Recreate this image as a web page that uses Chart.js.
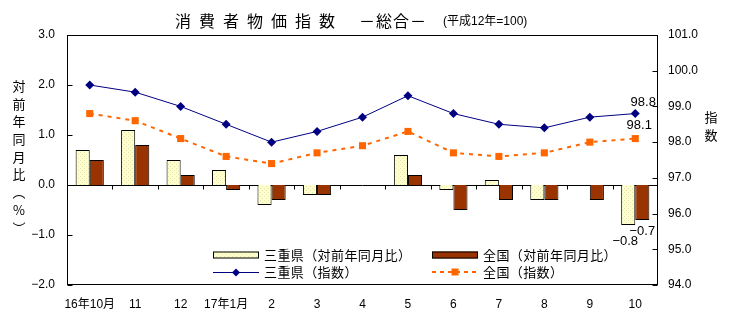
<!DOCTYPE html>
<html>
<head>
<meta charset="utf-8">
<script src="https://cdn.jsdelivr.net/npm/chart.js@4"></script>
<style>
  html, body { margin: 0; padding: 0; background: #fff; }
  #wrap { width: 729px; height: 328px; }
</style>
</head>
<body>
<div id="wrap"><canvas id="cpiChart" width="729" height="328"></canvas></div>
<script>
// 消費者物価指数（総合）: 三重県 と 全国
const categories = ["16年10月", "11", "12", "17年1月", "2", "3", "4", "5", "6", "7", "8", "9", "10"];
const mieYoY = [0.7, 1.1, 0.5, 0.3, -0.4, -0.2, 0.0, 0.6, -0.1, 0.1, -0.3, 0.0, -0.8];
const zenkokuYoY = [0.5, 0.8, 0.2, -0.1, -0.3, -0.2, 0.0, 0.2, -0.5, -0.3, -0.3, -0.3, -0.7];
const mieIndex = [99.6, 99.4, 99.0, 98.5, 98.0, 98.3, 98.7, 99.3, 98.8, 98.5, 98.4, 98.7, 98.8];
const zenkokuIndex = [98.8, 98.6, 98.1, 97.6, 97.4, 97.7, 97.9, 98.3, 97.7, 97.6, 97.7, 98.0, 98.1];
const leftTicks = [-2, -1, 0, 1, 2, 3];
const rightTicks = [94, 95, 96, 97, 98, 99, 100, 101];

const FONT = '"Liberation Sans", "Noto Sans CJK JP", sans-serif';
const JFONT = '"Noto Sans CJK JP", sans-serif';
const NAVY = "#000080";
const ORANGE = "#FF6600";
const BROWN = "#993300";

function fmt(v) {
  return v.toFixed(1).replace("-", "\u2212");
}

// light yellow fill with faint dots
function dotPattern() {
  const c = document.createElement("canvas");
  c.width = 4; c.height = 4;
  const g = c.getContext("2d");
  g.fillStyle = "#FFFFCC";
  g.fillRect(0, 0, 4, 4);
  g.fillStyle = "#E4E4B4";
  g.fillRect(0, 0, 1, 1);
  g.fillRect(2, 2, 1, 1);
  return g.createPattern(c, "repeat");
}

const decor = {
  id: "decor",
  beforeDatasetsDraw(chart) {
    const { ctx, chartArea: a, scales } = chart;
    const zy = Math.round(scales.y.getPixelForValue(0)) + 0.5;
    ctx.save();
    ctx.strokeStyle = "#000";
    ctx.lineWidth = 1;
    ctx.beginPath();
    ctx.moveTo(a.left, zy);
    ctx.lineTo(a.right, zy);
    const step = (a.right - a.left) / categories.length;
    for (let k = 1; k < categories.length; k++) {
      const x = Math.round(a.left + k * step) + 0.5;
      ctx.moveTo(x, zy);
      ctx.lineTo(x, zy + 4);
    }
    ctx.stroke();
    ctx.restore();
  },
  afterDatasetsDraw(chart) {
    const { ctx } = chart;
    const last = categories.length - 1;
    ctx.save();
    ctx.fillStyle = "#000";
    ctx.font = "13px " + FONT;
    ctx.textAlign = "center";
    ctx.textBaseline = "middle";
    const pMie = chart.getDatasetMeta(0).data[last];
    const pZen = chart.getDatasetMeta(1).data[last];
    const bMie = chart.getDatasetMeta(2).data[last];
    const bZen = chart.getDatasetMeta(3).data[last];
    ctx.fillText(fmt(mieIndex[last]), pMie.x + 8, pMie.y - 11);
    ctx.fillText(fmt(zenkokuIndex[last]), pZen.x + 4, pZen.y - 13);
    ctx.fillText(fmt(zenkokuYoY[last]), bZen.x + 0, bZen.y + 11);
    ctx.fillText(fmt(mieYoY[last]), bMie.x - 3, bMie.y + 16);
    ctx.restore();
  },
  afterDraw(chart) {
    const { ctx, chartArea: a, scales } = chart;
    const L = Math.round(a.left) + 0.5, R = Math.round(a.right) - 0.5;
    const T = Math.round(a.top) + 0.5, B = Math.round(a.bottom) - 0.5;
    ctx.save();
    ctx.strokeStyle = "#000";
    ctx.lineWidth = 1;
    ctx.strokeRect(L, T, R - L, B - T);
    ctx.beginPath();
    leftTicks.forEach(v => {
      const y = Math.round(scales.y.getPixelForValue(v)) + 0.5;
      ctx.moveTo(L, y); ctx.lineTo(L + 5, y);
    });
    rightTicks.forEach(v => {
      const y = Math.round(scales.y2.getPixelForValue(v)) + 0.5;
      ctx.moveTo(R, y); ctx.lineTo(R - 5, y);
    });
    ctx.stroke();

    // title
    ctx.fillStyle = "#000";
    ctx.textBaseline = "middle";
    ctx.textAlign = "left";
    ctx.font = "16px " + JFONT;
    ctx.letterSpacing = "8px";
    ctx.fillText("消費者物価指数", 175, 21);
    ctx.letterSpacing = "1px";
    ctx.fillText("－総合－", 359, 21);
    ctx.letterSpacing = "0px";
    ctx.font = "12px " + FONT;
    ctx.fillText("(平成12年=100)", 443, 22);

    // vertical axis titles
    ctx.textAlign = "center";
    ctx.font = "13px " + JFONT;
    const leftTitle = ["対", "前", "年", "同", "月", "比", "\uFE35", "%", "\uFE36"];
    leftTitle.forEach((ch, i) => ctx.fillText(ch, 19, 86 + i * 17.7));
    ["指", "数"].forEach((ch, i) => ctx.fillText(ch, 711, 117 + i * 18));

    // legend
    ctx.textAlign = "left";
    ctx.font = "13px " + JFONT;
    ctx.letterSpacing = "0.4px";
    const rows = [255, 272];
    const cols = [213, 432];
    // bars
    ctx.fillStyle = dotPattern();
    ctx.fillRect(cols[0], rows[0] - 3.5, 46, 7);
    ctx.strokeRect(cols[0] + 0.5, rows[0] - 3, 45, 6);
    ctx.fillStyle = BROWN;
    ctx.fillRect(cols[1], rows[0] - 3.5, 46, 7);
    ctx.strokeRect(cols[1] + 0.5, rows[0] - 3, 45, 6);
    // lines
    ctx.strokeStyle = NAVY;
    ctx.beginPath();
    ctx.moveTo(cols[0], rows[1] + 0.5); ctx.lineTo(cols[0] + 46, rows[1] + 0.5);
    ctx.stroke();
    ctx.fillStyle = NAVY;
    ctx.beginPath();
    const dx = cols[0] + 23, dy = rows[1] + 0.5;
    ctx.moveTo(dx, dy - 4); ctx.lineTo(dx + 4, dy); ctx.lineTo(dx, dy + 4); ctx.lineTo(dx - 4, dy);
    ctx.closePath(); ctx.fill();
    ctx.strokeStyle = ORANGE;
    ctx.lineWidth = 2;
    ctx.setLineDash([4, 4]);
    ctx.beginPath();
    ctx.moveTo(cols[1], rows[1]); ctx.lineTo(cols[1] + 46, rows[1]);
    ctx.stroke();
    ctx.setLineDash([]);
    ctx.fillStyle = ORANGE;
    ctx.fillRect(cols[1] + 19.5, rows[1] - 3.5, 7, 7);

    ctx.fillStyle = "#000";
    ctx.fillText("三重県（対前年同月比）", cols[0] + 51, rows[0]);
    ctx.fillText("全国（対前年同月比）", cols[1] + 51, rows[0]);
    ctx.fillText("三重県（指数）", cols[0] + 51, rows[1]);
    ctx.fillText("全国（指数）", cols[1] + 51, rows[1]);
    ctx.restore();
  }
};

document.addEventListener("DOMContentLoaded", function () {
  const ctx = document.getElementById("cpiChart").getContext("2d");

  new Chart(ctx, {
    type: "bar",
    data: {
      labels: categories,
      datasets: [
        {
          type: "line",
          label: "三重県（指数）",
          data: mieIndex,
          yAxisID: "y2",
          borderColor: NAVY,
          borderWidth: 1,
          backgroundColor: NAVY,
          pointStyle: "rectRot",
          pointRadius: 4.5,
          pointBorderWidth: 0,
          tension: 0,
          order: 0,
        },
        {
          type: "line",
          label: "全国（指数）",
          data: zenkokuIndex,
          yAxisID: "y2",
          borderColor: ORANGE,
          borderWidth: 2,
          borderDash: [4, 5],
          backgroundColor: ORANGE,
          pointStyle: "rect",
          pointRadius: 5,
          pointBorderWidth: 0,
          tension: 0,
          order: 0,
        },
        {
          label: "三重県（対前年同月比）",
          data: mieYoY,
          yAxisID: "y",
          backgroundColor: dotPattern(),
          borderColor: "#000",
          borderWidth: 1,
          categoryPercentage: 0.62,
          barPercentage: 1.0,
          order: 1,
        },
        {
          label: "全国（対前年同月比）",
          data: zenkokuYoY,
          yAxisID: "y",
          backgroundColor: BROWN,
          borderColor: "#000",
          borderWidth: 1,
          categoryPercentage: 0.62,
          barPercentage: 1.0,
          order: 1,
        },
      ],
    },
    options: {
      responsive: false,
      animation: false,
      layout: { padding: { top: 35, left: 0, right: 0, bottom: 0 } },
      plugins: {
        legend: { display: false },
        tooltip: { enabled: false },
      },
      scales: {
        x: {
          grid: { display: false, drawTicks: false },
          border: { display: false },
          ticks: {
            autoSkip: false,
            maxRotation: 0,
            padding: 12,
            color: "#000",
            font: { family: FONT, size: 12 },
          },
          afterFit(scale) { scale.height = 43; },
        },
        y: {
          position: "left",
          min: -2,
          max: 3,
          grid: { display: false, drawTicks: false },
          border: { display: false },
          ticks: {
            stepSize: 1,
            padding: 12,
            color: "#000",
            font: { family: FONT, size: 12 },
            callback: v => fmt(v),
          },
          afterFit(scale) { scale.width = 67; },
        },
        y2: {
          position: "right",
          min: 94,
          max: 101,
          grid: { display: false, drawTicks: false },
          border: { display: false },
          ticks: {
            stepSize: 1,
            padding: 10,
            color: "#000",
            font: { family: FONT, size: 12 },
            callback: v => fmt(v),
          },
          afterFit(scale) { scale.width = 71; },
        },
      },
    },
    plugins: [decor],
  });
});
</script>
</body>
</html>
